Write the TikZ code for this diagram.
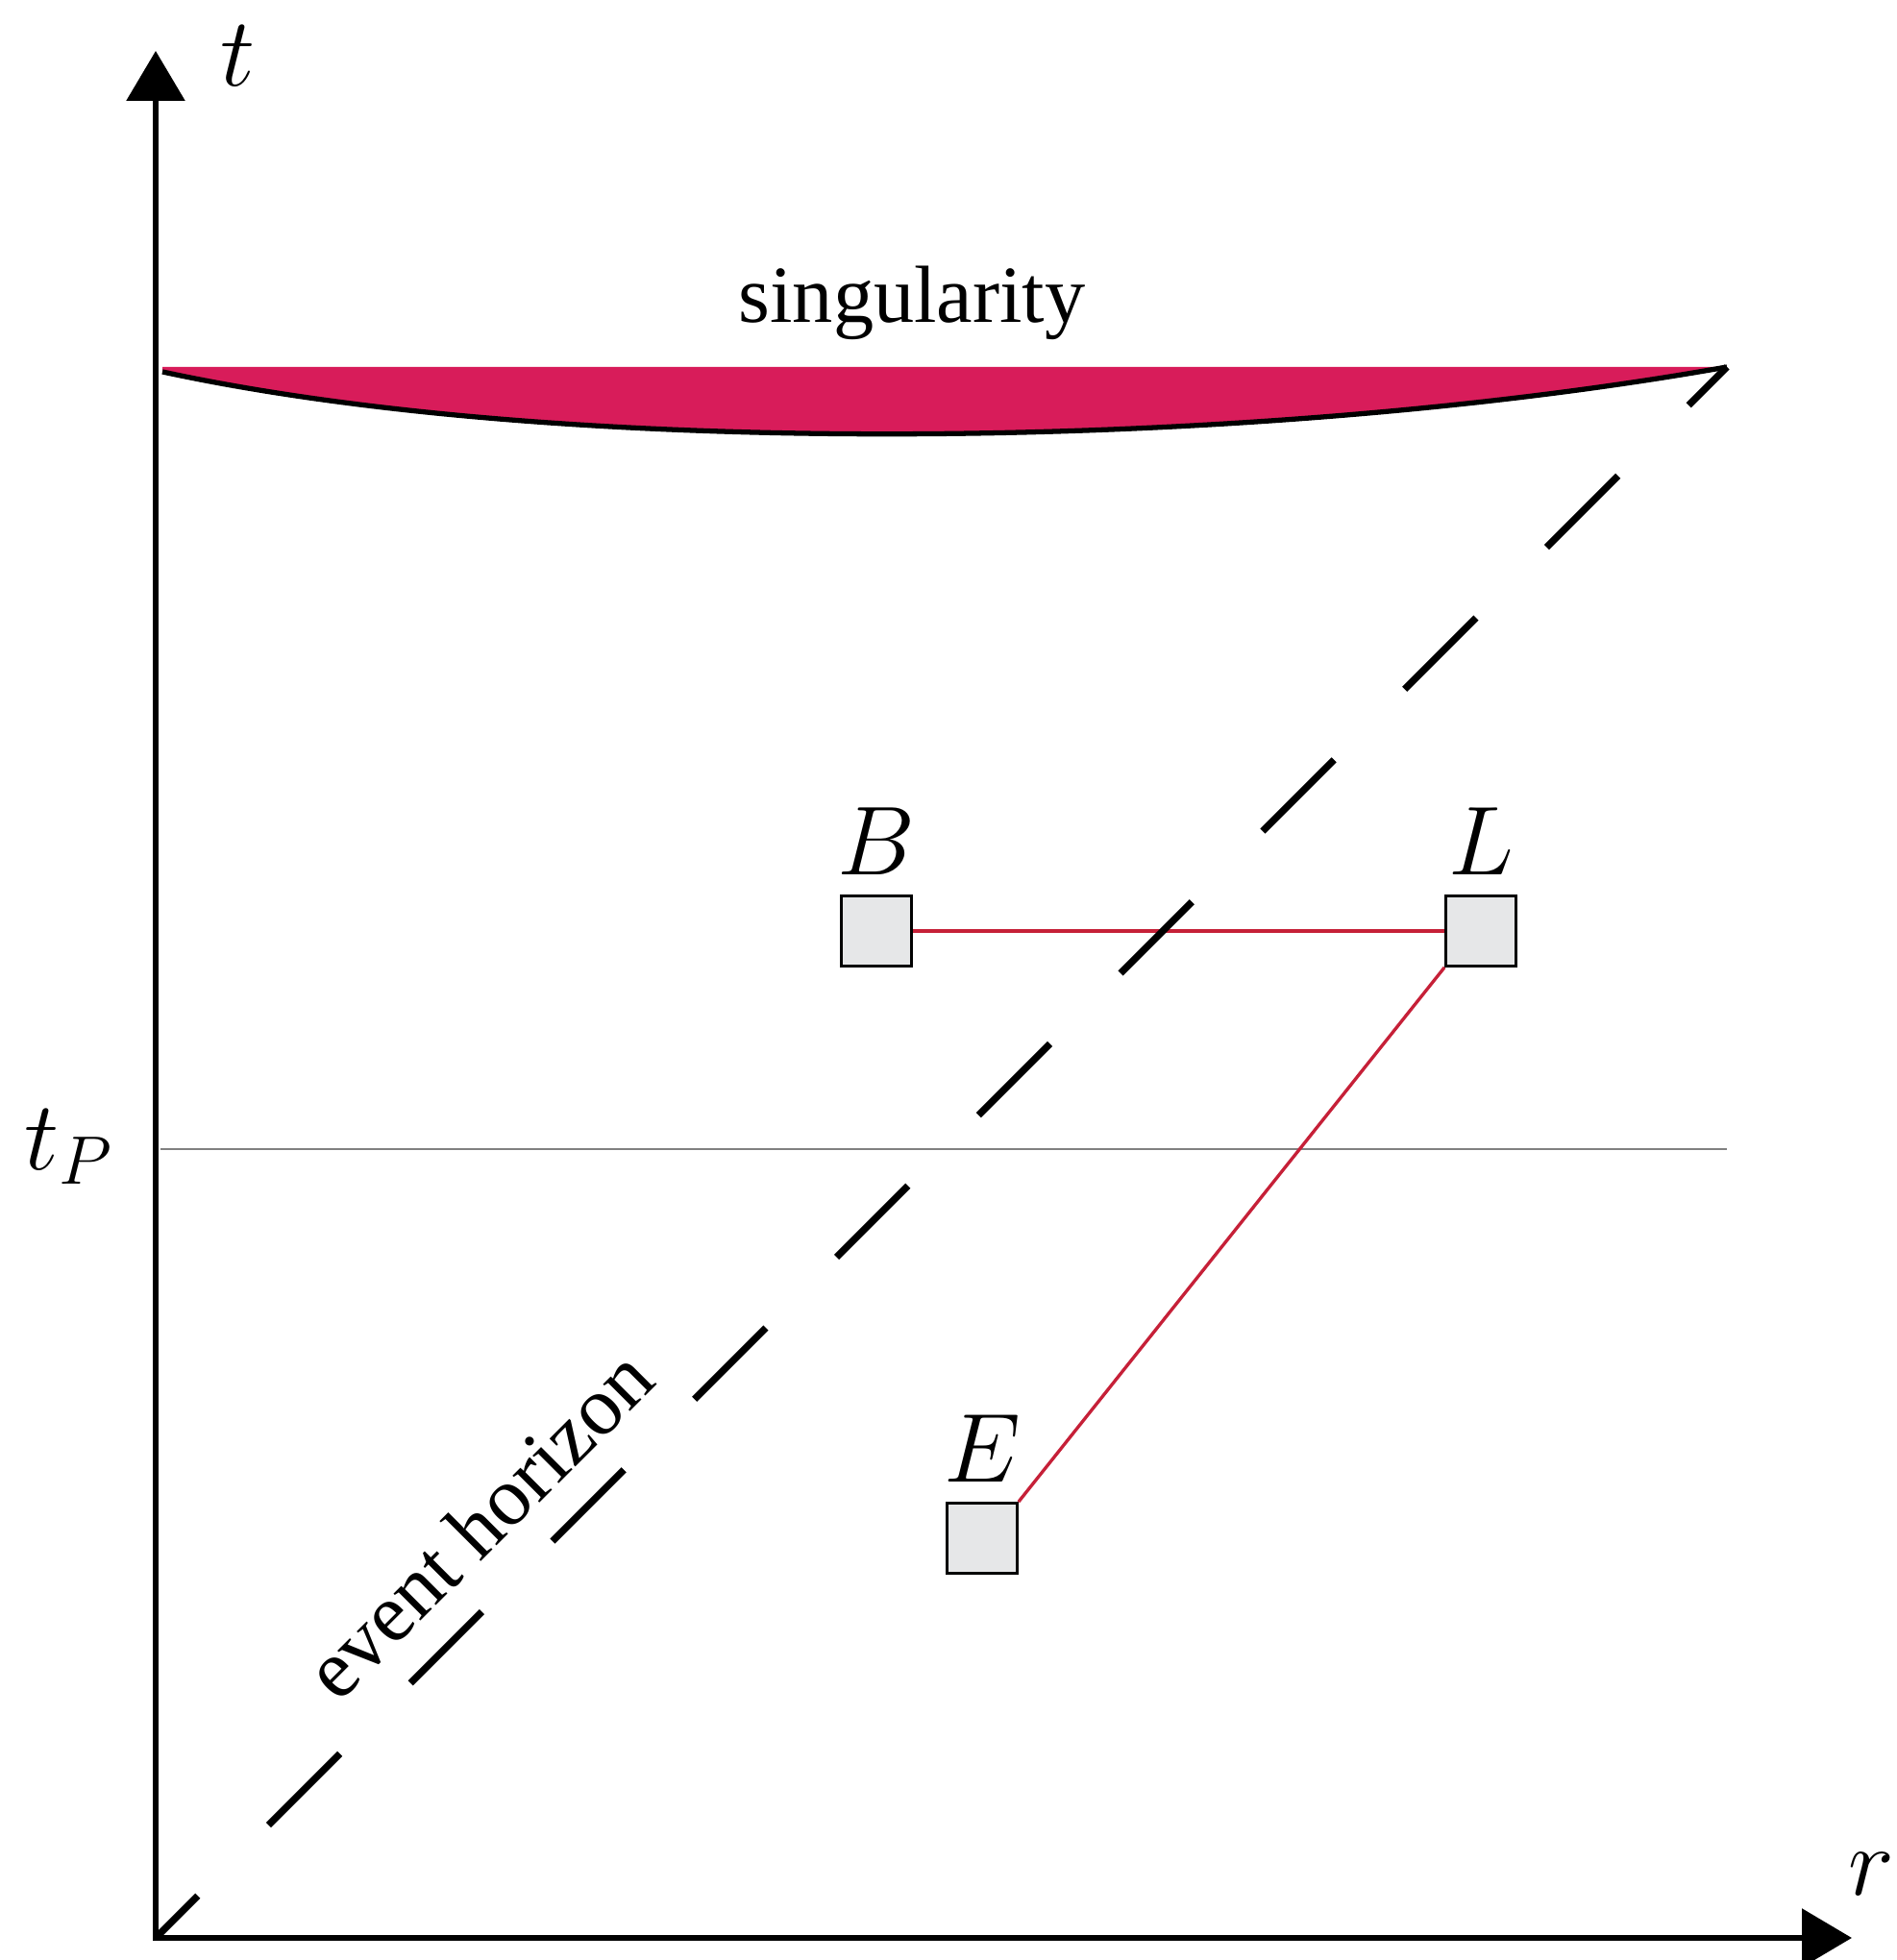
\RequirePackage{fix-cm}
\documentclass[tikz,border=0pt]{standalone}
\usepackage{fontspec}
\setmainfont{Liberation Serif}
\usepackage{tikz}
\usetikzlibrary{arrows.meta,positioning}
\definecolor{SingularRed}{RGB}{216,28,90}
\definecolor{SignalRed}{RGB}{198,32,56}
\definecolor{BoxGray}{RGB}{230,231,232}
\tikzset{
  axisline/.style={line width=1.7pt, {Triangle[length=5.2mm,width=6mm]}-{Triangle[length=5.2mm,width=6mm]}},
  station/.style={draw, line width=0.8pt, fill=BoxGray, minimum size=7.3mm, inner sep=0pt},
  bigmath/.style={font=\fontsize{29}{35}\selectfont, inner sep=0pt},
  signal/.style={SignalRed, line width=0.95pt},
  horizon/.style={line width=2.1pt, dash pattern=on 1.05cm off 1.04cm, dash phase=0.43cm}
}

\begin{document}
\begin{tikzpicture}
  \useasboundingbox (0,0) rectangle (19.73,20.40);

  % Reference points
  \coordinate (O) at (1.62,0.23);
  \coordinate (Ttip) at (1.62,19.87);
  \coordinate (Rtip) at (19.27,0.23);
  \coordinate (H) at (17.97,16.58);
  \coordinate (S) at (1.69,16.58);
  \coordinate (Sb) at (1.69,16.53);

  % Singularity
  \fill[SingularRed] (S) -- (H) .. controls (13.0,15.70) and (5.9,15.62) .. (Sb) -- cycle;
  \draw[line width=1.5pt] (Sb) .. controls (5.9,15.62) and (13.0,15.70) .. (H);
  \node[font=\fontsize{24}{29}\selectfont, inner sep=0pt] (sing) at (9.49,17.25) {singularity};

  % Time t_P
  \coordinate (P0) at (1.67,8.44);
  \coordinate (P1) at (17.97,8.44);
  \draw[gray, line width=0.5pt] (P0) -- (P1);

  % Stations
  \node[station] (B) at (9.12,10.71) {};
  \node[station] (L) at (15.41,10.71) {};
  \node[station] (E) at (10.22,4.39) {};
  \node[bigmath, above=2mm of B] (Blab) {$B$};
  \node[bigmath, above=2mm of L] (Llab) {$L$};
  \node[bigmath, above=2mm of E] (Elab) {$E$};

  % Signals
  \draw[signal] (B) -- (L);
  \draw[signal] (L.south west) -- (E.north east);

  % Event horizon
  \draw[horizon] (O) -- (H);
  \node[rotate=45, font=\fontsize{24.5}{29}\selectfont, inner sep=0pt] (eh) at (4.98,4.54) {event horizon};

  % Axes
  \draw[axisline] (Ttip) -- (O) -- (Rtip);
  \node[bigmath] (tlab) at (2.48,19.82) {$t$};
  \node[bigmath] (rlab) at (19.47,0.89) {$r$};
  \node[bigmath] (tPlab) at (0.72,8.46) {$t_P$};
\end{tikzpicture}
\end{document}
